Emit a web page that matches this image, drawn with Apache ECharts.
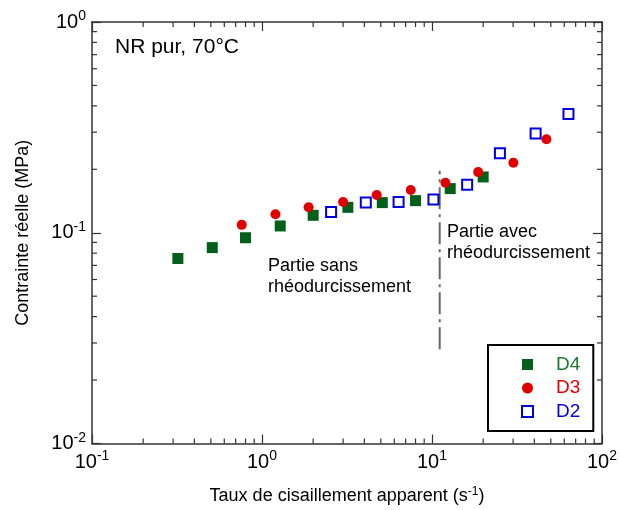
<!DOCTYPE html>
<html>
<head>
<meta charset="utf-8">
<script src="https://cdn.jsdelivr.net/npm/echarts@6/dist/echarts.min.js"></script>
<style>html,body{margin:0;padding:0;background:#fff}#c{width:620px;height:510px}</style>
</head>
<body>
<div id="c"></div>
<script>
// ---- data ----
const d4 = [[0.32,0.0755],[0.51,0.085],[0.80,0.0947],[1.28,0.1077],[2.0,0.121],[3.2,0.132],[5.1,0.139],[8.0,0.142],[12.8,0.162],[20.0,0.184]];
const d3 = [[0.76,0.109],[1.20,0.1225],[1.88,0.132],[3.0,0.140],[4.73,0.151],[7.5,0.1595],[12.0,0.1727],[18.7,0.194],[30.1,0.2147],[47.1,0.278]];
const d2 = [[2.55,0.1256],[4.08,0.1393],[6.36,0.140],[10.2,0.1439],[16.1,0.169],[25.1,0.2383],[40.7,0.2954],[63.5,0.366]];
const divider = [[11.1,0.028],[11.1,0.197]];
const xMinorTicks = [0.2,0.3,0.4,0.5,0.6,0.7,0.8,0.9,2,3,4,5,6,7,8,9,20,30,40,50,60,70,80,90];
const yMinorTicks = [0.02,0.03,0.04,0.05,0.06,0.07,0.08,0.09,0.2,0.3,0.4,0.5,0.6,0.7,0.8,0.9];
const xRange = [0.1, 100];
const yRange = [0.01, 1];

const FONT = '"Liberation Sans", Arial, sans-serif';
const GREEN = '#03601a', RED = '#e00000', BLUE = '#0000dc';
const AX = '#333';

const chart = echarts.init(document.getElementById('c'), null, {renderer: 'canvas'});

const expLabel = v => '{b|10}{s|' + Math.round(Math.log10(v)) + '}';
const rich = {
  b: {fontSize: 20, fontFamily: FONT, color: '#000'},
  s: {fontSize: 14, fontFamily: FONT, color: '#000', padding: [0, 0, 11, 0]}
};

function axisCommon(pos, show) {
  return {
    type: 'log', logBase: 10, position: pos,
    axisLine: {show: true, onZero: false, lineStyle: {color: AX, width: 1.5}},
    axisTick: {show: true, inside: true, length: 9, lineStyle: {color: AX, width: 1.2}},
    splitLine: {show: false},
    axisLabel: show ? {show: true, formatter: expLabel, rich: rich, margin: 6} : {show: false}
  };
}

const xMinor = xMinorTicks.map(v => [v, yRange[0]]);
const yMinor = yMinorTicks.map(v => [xRange[0], v]);

function minorRender(isX) {
  return function (params, api) {
    const cs = params.coordSys;
    const L = 5;
    const st = {stroke: AX, lineWidth: 1.2};
    if (isX) {
      const p = api.coord([api.value(0), yRange[0]]);
      const yb = cs.y + cs.height, yt = cs.y;
      return {type: 'group', children: [
        {type: 'line', shape: {x1: p[0], y1: yb, x2: p[0], y2: yb - L}, style: st},
        {type: 'line', shape: {x1: p[0], y1: yt, x2: p[0], y2: yt + L}, style: st}
      ]};
    } else {
      const p = api.coord([xRange[0], api.value(1)]);
      const xl = cs.x, xr = cs.x + cs.width;
      return {type: 'group', children: [
        {type: 'line', shape: {x1: xl, y1: p[1], x2: xl + L, y2: p[1]}, style: st},
        {type: 'line', shape: {x1: xr, y1: p[1], x2: xr - L, y2: p[1]}, style: st}
      ]};
    }
  };
}

const option = {
  animation: false,
  backgroundColor: '#fff',
  grid: {left: 92, top: 22, width: 513, height: 429, containLabel: false},
  xAxis: [
    Object.assign(axisCommon('bottom', true), {
      min: xRange[0], max: xRange[1],
      name: 'Taux de cisaillement apparent (s{s|-1})', nameLocation: 'middle', nameGap: 42,
      nameTextStyle: {fontSize: 18, fontFamily: FONT, color: '#000',
        rich: {s: {fontSize: 12, fontFamily: FONT, color: '#000', padding: [0, 0, 9, 0]}}}
    }),
    Object.assign(axisCommon('top', false), {min: xRange[0], max: xRange[1]})
  ],
  yAxis: [
    Object.assign(axisCommon('left', true), {
      min: yRange[0], max: yRange[1],
      name: 'Contrainte réelle (MPa)', nameLocation: 'middle', nameGap: 60, nameRotate: 90,
      nameTextStyle: {fontSize: 18, fontFamily: FONT, color: '#000'}
    }),
    Object.assign(axisCommon('right', false), {min: yRange[0], max: yRange[1]})
  ],
  legend: {
    orient: 'vertical', left: 488, top: 345,
    padding: [10, 13, 10, 33],
    itemWidth: 11, itemHeight: 11, itemGap: 4.5,
    borderColor: '#000', borderWidth: 2,
    textStyle: {fontSize: 19, fontFamily: FONT, padding: [0, 0, 0, 18]},
    data: [
      {name: 'D4', textStyle: {color: '#1b7a2e'}},
      {name: 'D3', textStyle: {color: RED}},
      {name: 'D2', textStyle: {color: BLUE}}
    ]
  },
  graphic: [
    {type: 'text', left: 115, top: 37, style: {text: 'NR pur, 70°C', fontSize: 21, fontFamily: FONT, fill: '#000'}},
    {type: 'text', left: 268, top: 256, style: {text: 'Partie sans\nrhéodurcissement', fontSize: 18, fontFamily: FONT, fill: '#000', lineHeight: 21}},
    {type: 'text', left: 447, top: 222, style: {text: 'Partie avec\nrhéodurcissement', fontSize: 18, fontFamily: FONT, fill: '#000', lineHeight: 21}}
  ],
  series: [
    {type: 'custom', name: 'xminor', coordinateSystem: 'cartesian2d', renderItem: minorRender(true), data: xMinor, silent: true, z: 1},
    {type: 'custom', name: 'yminor', coordinateSystem: 'cartesian2d', renderItem: minorRender(false), data: yMinor, silent: true, z: 1},
    {type: 'line', name: 'divider', data: divider, symbol: 'none', silent: true,
      lineStyle: {color: '#666', width: 2, type: [22, 5, 3, 5]}, z: 2},
    {type: 'scatter', name: 'D4', data: d4, symbol: 'rect', symbolSize: 11,
      itemStyle: {color: GREEN, opacity: 1}, z: 3},
    {type: 'scatter', name: 'D3', data: d3, symbol: 'circle', symbolSize: 10,
      itemStyle: {color: RED, opacity: 1}, z: 4},
    {type: 'scatter', name: 'D2', data: d2, symbol: 'rect', symbolSize: 10,
      itemStyle: {color: '#fff', borderColor: BLUE, borderWidth: 2, opacity: 1}, z: 5}
  ]
};
chart.setOption(option);
</script>
</body>
</html>
